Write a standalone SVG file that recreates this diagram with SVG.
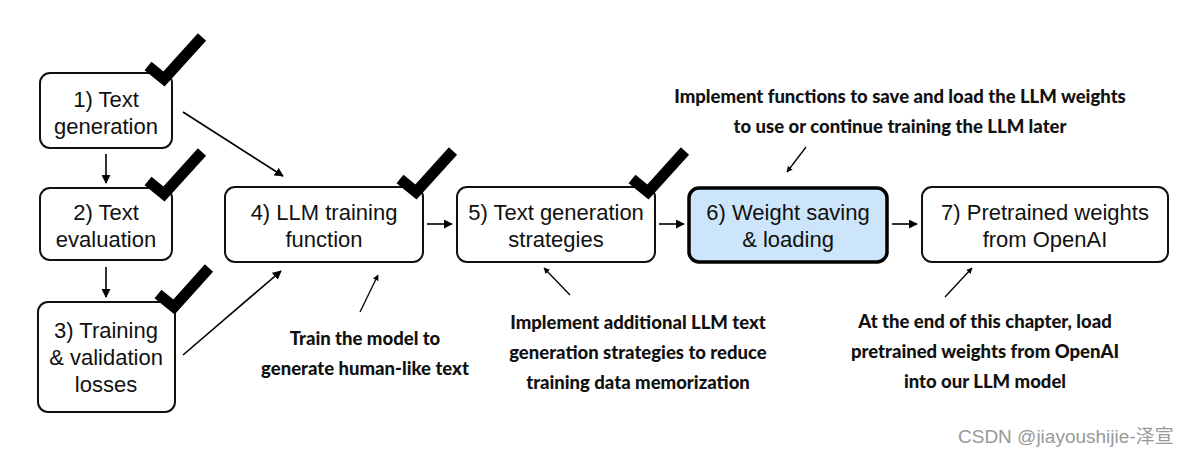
<svg xmlns="http://www.w3.org/2000/svg" width="1186" height="456" viewBox="0 0 1186 456">
<defs>
<marker id="ah" viewBox="0 0 10 10" refX="9" refY="5" markerWidth="6" markerHeight="6" orient="auto" markerUnits="userSpaceOnUse">
<path d="M0,0 L10,5 L0,10 z" fill="#000"/>
</marker>
<marker id="ah2" viewBox="0 0 10 10" refX="9" refY="5" markerWidth="9" markerHeight="9" orient="auto" markerUnits="userSpaceOnUse">
<path d="M0,0 L10,5 L0,10 z" fill="#000"/>
</marker>
</defs>
<style>
.box{fill:#fff;stroke:#111;stroke-width:2}
.hl{fill:#cce5fb;stroke:#000;stroke-width:3.5}
.bt{font-family:"Liberation Sans",Arial,sans-serif;font-size:22px;fill:#111;text-anchor:middle}
.ann{font-family:Lato,"Open Sans",sans-serif;font-weight:900;font-size:18.5px;fill:#111;text-anchor:middle}
.chk{fill:none;stroke:#000;stroke-width:11;stroke-linejoin:miter}
.c{stroke:#000;stroke-width:1.6;fill:none;marker-end:url(#ah2)}
.a{stroke:#000;stroke-width:1.3;fill:none;marker-end:url(#ah)}
.wm{font-family:"Liberation Sans",Arial,"Noto Sans CJK SC",sans-serif;font-size:19px;fill:#999}
</style>
<rect width="1186" height="456" fill="#fff"/>
<g id="n1"><rect class="box" x="40" y="73" width="132" height="75" rx="10"/>
<text class="bt" x="106" y="107">1) Text</text><text class="bt" x="106" y="134">generation</text>
<path class="chk" d="M148,66 L164,79 L202,37"/></g>
<g id="n2"><rect class="box" x="40" y="188" width="132" height="72" rx="10"/>
<text class="bt" x="106" y="220">2) Text</text><text class="bt" x="106" y="247">evaluation</text>
<path class="chk" d="M148,181 L164,194 L202,152"/></g>
<g id="n3"><rect class="box" x="38" y="302" width="137" height="110" rx="10"/>
<text class="bt" x="106" y="338">3) Training</text><text class="bt" x="106" y="365">&amp; validation</text><text class="bt" x="106" y="392">losses</text>
<path class="chk" d="M158,294 L174,307 L209,268"/></g>
<g id="n4"><rect class="box" x="225" y="187" width="198" height="75" rx="10"/>
<text class="bt" x="324" y="220">4) LLM training</text><text class="bt" x="324" y="247">function</text>
<path class="chk" d="M400,179 L416,192 L453,151"/></g>
<g id="n5"><rect class="box" x="457" y="187" width="198" height="75" rx="10"/>
<text class="bt" x="556" y="220">5) Text generation</text><text class="bt" x="556" y="247">strategies</text>
<path class="chk" d="M632,179 L648,192 L685,151"/></g>
<g id="n6"><rect class="hl" x="689" y="188" width="198" height="74" rx="10"/>
<text class="bt" x="788" y="220">6) Weight saving</text><text class="bt" x="788" y="247">&amp; loading</text></g>
<g id="n7"><rect class="box" x="922" y="187" width="246" height="75" rx="10"/>
<text class="bt" x="1045" y="220">7) Pretrained weights</text><text class="bt" x="1045" y="247">from OpenAI</text></g>
<g id="connectors">
<line class="c" x1="106" y1="154" x2="106" y2="183"/>
<line class="c" x1="106" y1="267" x2="106" y2="297"/>
<line class="c" x1="183" y1="112" x2="283" y2="176"/>
<line class="c" x1="183" y1="355" x2="281" y2="271"/>
<line class="c" x1="427" y1="224" x2="452" y2="224"/>
<line class="c" x1="659" y1="224" x2="684" y2="224"/>
<line class="c" x1="892" y1="224" x2="917" y2="224"/>
<line class="a" x1="360" y1="312" x2="378" y2="275"/>
<line class="a" x1="570" y1="295" x2="544" y2="268"/>
<line class="a" x1="806" y1="147" x2="787" y2="172"/>
<line class="a" x1="945" y1="297" x2="972" y2="268"/>
</g>
<g id="annotations">
<text class="ann" x="900" y="103">Implement functions to save and load the LLM weights</text>
<text class="ann" x="900" y="133">to use or continue training the LLM later</text>
<text class="ann" x="365" y="345">Train the model to</text>
<text class="ann" x="365" y="375">generate human-like text</text>
<text class="ann" x="638" y="329">Implement additional LLM text</text>
<text class="ann" x="638" y="359">generation strategies to reduce</text>
<text class="ann" x="638" y="389">training data memorization</text>
<text class="ann" x="985" y="328">At the end of this chapter, load</text>
<text class="ann" x="985" y="358">pretrained weights from OpenAI</text>
<text class="ann" x="985" y="388">into our LLM model</text>
</g>
<text class="wm" x="958" y="443">CSDN @jiayoushijie-泽宣</text>
</svg>
